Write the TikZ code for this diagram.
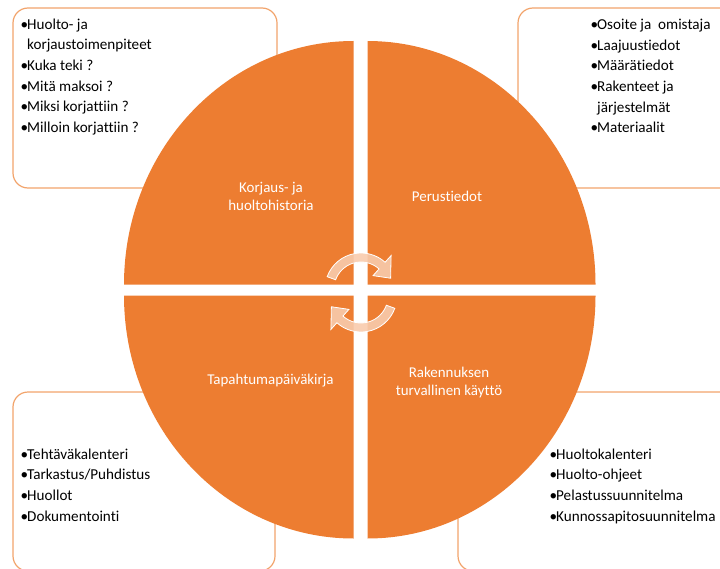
\documentclass[tikz,border=0pt]{standalone}
\usepackage{fontspec}
\setmainfont{Carlito}[Ligatures = NoCommon]
\definecolor{quadorange}{HTML}{ED7D31}
\definecolor{boxline}{HTML}{F2A46C}
\definecolor{cyclepeach}{HTML}{F8CBAD}
\newcommand{\itm}{\makebox[6.5bp][l]{•}}
\newcommand{\cont}{\makebox[6.5bp]{}}

\begin{document}
\begin{tikzpicture}[x = 1bp, y = -1bp,
		quad/.style = {fill = quadorange},
		listbox/.style = {draw = boxline, line width = 1.2bp, rounded corners = 15bp, fill = white},
		cyclearrow/.style = {fill = cyclepeach, fill opacity = 0.9, draw = white, line width = 0.8bp},
		quadtext/.style = {text = white, align = center, inner sep = 0pt, font = \fontsize{15}{18}\selectfont},
		listtext/.style = {anchor = north west, align = left, inner sep = 0pt, font = \fontsize{15.2}{20.7}\selectfont}]
	\clip (0, 0) rectangle (720, 569);
	
	% Boxes
	\draw[listbox] (13, 8) rectangle (277, 188);
	\draw[listbox] (518, 8) rectangle (790, 188);
	\draw[listbox] (13, 392) rectangle (275, 571);
	\draw[listbox] (458, 392) rectangle (790, 571);
	
	% Quadrants
	\fill[quad] (353.5, 284.5) -- ++(-229.5, 0) arc[start angle = 180, end angle = 270, x radius = 229.5, y radius = 243.5] -- cycle;
	\fill[quad] (367.5, 284.5) -- ++(228, 0) arc[start angle = 0, end angle = -90, x radius = 228, y radius = 243.5] -- cycle;
	\fill[quad] (353.5, 295.5) -- ++(-229.5, 0) arc[start angle = 180, end angle = 90, x radius = 229.5, y radius = 243] -- cycle;
	\fill[quad] (367.5, 295.5) -- ++(228, 0) arc[start angle = 0, end angle = 90, x radius = 228, y radius = 243] -- cycle;
	
	% Cycle arrows
	\begin{scope}[shift = {(361, 289)}]
		\draw[cyclearrow] (200:36) arc[start angle = 200, end angle = 312, radius = 36] -- (312:45) -- (340:31.5) -- (312:18) -- (312:27) arc[start angle = 312, end angle = 200, radius = 27] -- cycle;
	\end{scope}
	\begin{scope}[shift = {(361, 296)}]
		\draw[cyclearrow] (20:36) arc[start angle = 20, end angle = 132, radius = 36] -- (132:45) -- (160:31.5) -- (132:18) -- (132:27) arc[start angle = 132, end angle = 20, radius = 27] -- cycle;
	\end{scope}
	
	% Quadrant labels
	\node[quadtext, anchor = north] (history) at (271, 182.5) {Korjaus- ja\\huoltohistoria};
	\node[quadtext, anchor = base] (basics) at (447, 201.5) {Perustiedot};
	\node[quadtext, anchor = base] (logbook) at (270.5, 384) {Tapahtumapäiväkirja};
	\node[quadtext, anchor = north] (safeuse) at (449, 366.5) {Rakennuksen\\turvallinen käyttö};
	
	% Lists
	\node[listtext] (historylist) at (20.5, 18.5) {\itm Huolto- ja\\\cont korjaustoimenpiteet\\\itm Kuka teki ?\\\itm Mitä maksoi ?\\\itm Miksi korjattiin ?\\\itm Milloin korjattiin ?};
	\node[listtext] (basicslist) at (590.5, 19) {\itm Osoite ja \ omistaja\\\itm Laajuustiedot\\\itm Määrätiedot\\\itm Rakenteet ja\\\cont järjestelmät\\\itm Materiaalit};
	\node[listtext] (logbooklist) at (20.5, 448.5) {\itm Tehtäväkalenteri\\\itm Tarkastus/Puhdistus\\\itm Huollot\\\itm Dokumentointi};
	\node[listtext] (safeuselist) at (549.5, 448.5) {\itm Huoltokalenteri\\\itm Huolto-ohjeet\\\itm Pelastussuunnitelma\\\itm Kunnossapitosuunnitelma};
\end{tikzpicture}
\end{document}
